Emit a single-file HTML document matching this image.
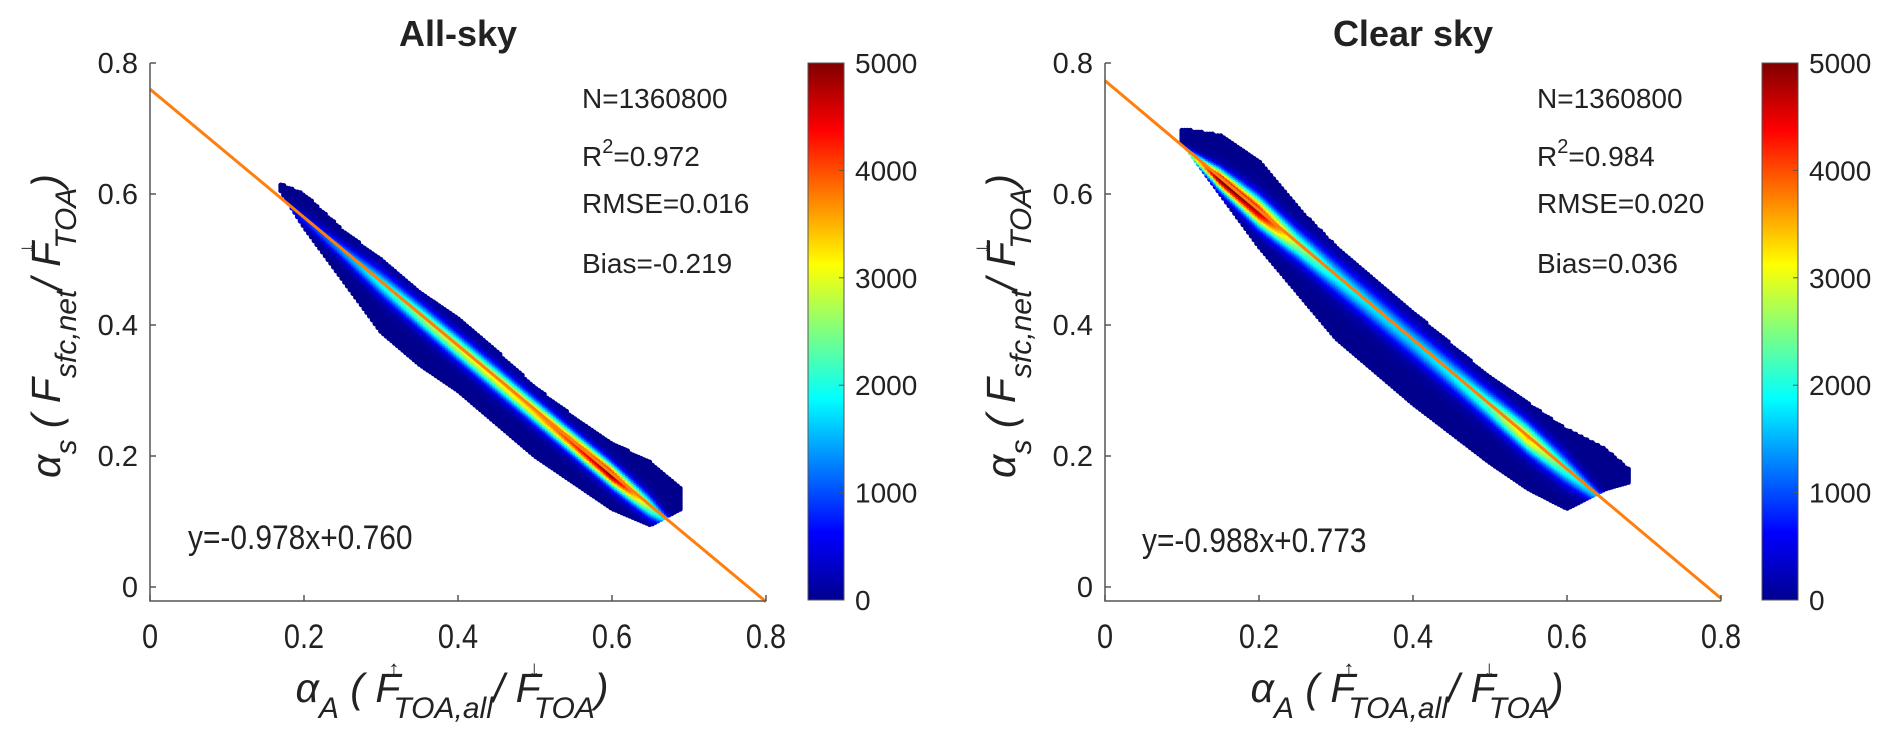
<!DOCTYPE html>
<html><head><meta charset="utf-8"><style>
html,body{margin:0;padding:0;background:#fff}
svg{display:block}
text{font-family:"Liberation Sans",Arial,sans-serif;fill:#222}
</style></head><body>
<svg id="fig" width="1892" height="745" viewBox="0 0 1892 745" xmlns="http://www.w3.org/2000/svg">
<defs>
<linearGradient id="jet" x1="0" y1="1" x2="0" y2="0">
<stop offset="0" stop-color="#00008f"/><stop offset="0.125" stop-color="#0000ff"/>
<stop offset="0.375" stop-color="#00ffff"/><stop offset="0.625" stop-color="#ffff00"/>
<stop offset="0.875" stop-color="#ff0000"/><stop offset="1" stop-color="#800000"/>
</linearGradient>
</defs>
</svg>
<script>
// ---- data ----
const xTicks = [0, 0.2, 0.4, 0.6, 0.8];
const yTicks = [0, 0.2, 0.4, 0.6, 0.8];
const cbTicks = [0, 1000, 2000, 3000, 4000, 5000];
const titles = ["All-sky", "Clear sky"];
const slopes = [-0.978, -0.988];
const intercepts = [0.760, 0.773];
const statsN = ["N=1360800", "N=1360800"];
const statsR2 = ["=0.972", "=0.984"];
const statsRMSE = ["RMSE=0.016", "RMSE=0.020"];
const statsBias = ["Bias=-0.219", "Bias=0.036"];
const eqs = ["y=-0.978x+0.760", "y=-0.988x+0.773"];
// density cloud outlines (x, top y, bottom y, peak count along fit line)
const cloudXA = [0.17, 0.20, 0.25, 0.30, 0.35, 0.40, 0.45, 0.50, 0.55, 0.60, 0.65, 0.69];
const cloudTopA = [0.615, 0.600, 0.545, 0.500, 0.450, 0.410, 0.360, 0.305, 0.260, 0.220, 0.190, 0.150];
const cloudBotA = [0.605, 0.550, 0.470, 0.390, 0.340, 0.300, 0.250, 0.200, 0.160, 0.120, 0.095, 0.120];
const cloudPeakA = [300, 600, 1200, 1800, 2400, 2800, 3000, 3300, 4000, 4800, 2500, 600];
const cloudXB = [0.10, 0.15, 0.20, 0.25, 0.30, 0.35, 0.40, 0.45, 0.50, 0.55, 0.60, 0.65, 0.68];
const cloudTopB = [0.700, 0.690, 0.650, 0.580, 0.520, 0.470, 0.420, 0.370, 0.320, 0.280, 0.240, 0.210, 0.180];
const cloudBotB = [0.680, 0.600, 0.520, 0.450, 0.380, 0.330, 0.280, 0.235, 0.190, 0.150, 0.120, 0.150, 0.160];
const cloudPeakB = [1500, 5000, 4600, 2500, 1800, 1600, 1500, 1700, 2200, 3200, 2000, 1200, 500];

const NS = "http://www.w3.org/2000/svg";
const svg = document.getElementById("fig");
function mk(tag, attrs, parent){const e=document.createElementNS(NS,tag);for(const k in attrs)e.setAttribute(k,attrs[k]);(parent||svg).appendChild(e);return e;}
function jet(v){
  const r=Math.min(4*v-1.5,-4*v+4.5), g=Math.min(4*v-0.5,-4*v+3.5), b=Math.min(4*v+0.5,-4*v+2.5);
  const c=t=>Math.round(255*Math.max(0,Math.min(1,t)));
  return `rgb(${c(r)},${c(g)},${c(b)})`;
}
function interp(xs, ys, x){
  if(x<=xs[0])return ys[0]; if(x>=xs[xs.length-1])return ys[ys.length-1];
  for(let i=0;i<xs.length-1;i++) if(x<=xs[i+1]){const t=(x-xs[i])/(xs[i+1]-xs[i]);return ys[i]+t*(ys[i+1]-ys[i]);}
}
const panels = [
  {x0:150, x1:766, cbx:808, cloudX:cloudXA, top:cloudTopA, bot:cloudBotA, peak:cloudPeakA, statX:582, eqX:188, eqY:549},
  {x0:1105, x1:1721, cbx:1762, cloudX:cloudXB, top:cloudTopB, bot:cloudBotB, peak:cloudPeakB, statX:1537, eqX:1142, eqY:552}
];
const yTop=63, yZero=587, axisBottom=601;
panels.forEach((p,pi)=>{
  const sx=v=>p.x0+(p.x1-p.x0)*v/0.8;
  const sy=v=>yZero-(yZero-yTop)*v/0.8;
  const g=mk("g",{});
  
  
  const t=mk("text",{x:(p.x0+p.x1)/2,y:46,"text-anchor":"middle","font-size":"36","font-weight":"bold"},g);
  t.textContent=titles[pi];
  
  
  const cg=mk("g",{},g);
  
  
  const step=0.0036;
  const xs0=p.cloudX[0], xs1=p.cloudX[p.cloudX.length-1];
  for(let x=xs0;x<=xs1+1e-9;x+=step){
    const tp=interp(p.cloudX,p.top,x), bt=interp(p.cloudX,p.bot,x), pk=interp(p.cloudX,p.peak,x);
    const yl=slopes[pi]*x+intercepts[pi];
    const h=Math.max(tp-bt,0.01);
    for(let y=bt;y<=tp+1e-9;y+=step*0.8){
      const d=Math.max(60, pk*Math.exp(-Math.pow((y-yl)/(0.16*h),2)) + 150*Math.exp(-Math.pow((y-yl)/(0.5*h),2)));
      mk("circle",{cx:sx(x).toFixed(1),cy:sy(y).toFixed(1),r:2.6,fill:jet(Math.min(1,d/5000))},cg);
    }
  }
  const fl=mk("line",{x1:sx(0),y1:sy(intercepts[pi]),x2:sx(0.8),y2:sy(slopes[pi]*0.8+intercepts[pi]),stroke:"#ff7f0e","stroke-width":3},g);
  
  
  const ax=mk("path",{d:`M${p.x0},${yTop} L${p.x0},${axisBottom} L${p.x1},${axisBottom}`,fill:"none",stroke:"#555","stroke-width":1.5},g);
  
  
  xTicks.forEach(v=>{
    mk("line",{x1:sx(v),x2:sx(v),y1:axisBottom,y2:axisBottom-6,stroke:"#555","stroke-width":1.5},g);
    const tl=mk("text",{x:sx(v),y:648,"text-anchor":"middle","font-size":"34",transform:`translate(${sx(v)},0) scale(0.85,1) translate(${-sx(v)},0)`},g);
    tl.textContent=String(v);
    
    
  });
  yTicks.forEach(v=>{
    mk("line",{x1:p.x0,x2:p.x0+6,y1:sy(v),y2:sy(v),stroke:"#555","stroke-width":1.5},g);
    const tl=mk("text",{x:p.x0-12,y:sy(v)+10,"text-anchor":"end","font-size":"29"},g);
    tl.textContent=String(v);
    
    
  });
  const xl=mk("text",{x:(p.x0+p.x1)/2-6,y:702,"text-anchor":"middle","font-size":"41","font-style":"italic"},g);
  xl.innerHTML=`α<tspan font-size="30" dy="16">A</tspan><tspan dy="-16"> ( F</tspan><tspan font-size="22" dx="-12" dy="-26">↑</tspan><tspan font-size="30" dx="-6" dy="42">TOA,all</tspan><tspan dy="-16">/ F</tspan><tspan font-size="22" dx="-12" dy="-26">↓</tspan><tspan font-size="30" dx="-6" dy="42">TOA</tspan><tspan dy="-16">)</tspan>`;
  
  
  const ly=p.x0-90;
  const yl=mk("text",{x:0,y:0,"text-anchor":"middle","font-size":"41","font-style":"italic",transform:`translate(${ly},326) rotate(-90)`},g);
  yl.innerHTML=`α<tspan font-size="30" dy="16">s</tspan><tspan dy="-16"> ( F</tspan><tspan font-size="30" dy="16">sfc,net</tspan><tspan dy="-16">/ F</tspan><tspan font-size="22" dx="-12" dy="-26">↓</tspan><tspan font-size="30" dx="-6" dy="42">TOA</tspan><tspan dy="-16">)</tspan>`;
  
  
  const s1=mk("text",{x:p.statX,y:108,"font-size":"28"},g); s1.textContent=statsN[pi];
   
  const s2=mk("text",{x:p.statX,y:166,"font-size":"28"},g);
  s2.innerHTML=`R<tspan font-size="20" dy="-13">2</tspan><tspan dy="13">${statsR2[pi]}</tspan>`;
   
  const s3=mk("text",{x:p.statX,y:213,"font-size":"28"},g); s3.textContent=statsRMSE[pi];
   
  const s4=mk("text",{x:p.statX,y:273,"font-size":"28"},g); s4.textContent=statsBias[pi];
   
  const eq=mk("text",{x:p.eqX,y:p.eqY,"font-size":"34",transform:`translate(${p.eqX},0) scale(0.88,1) translate(${-p.eqX},0)`},g);
  eq.textContent=eqs[pi];
   
  const cbTop=63, cbBot=600, cbMax=5000;
  const cy=v=>cbBot-(cbBot-cbTop)*v/cbMax;
  const cb=mk("rect",{x:p.cbx,y:cbTop,width:36,height:cbBot-cbTop,fill:"url(#jet)",stroke:"#555","stroke-width":1},g);
   
  cbTicks.forEach(v=>{
    mk("line",{x1:p.cbx+36,x2:p.cbx+31,y1:cy(v),y2:cy(v),stroke:"#555","stroke-width":1},g);
    const tl=mk("text",{x:p.cbx+47,y:cy(v)+10,"font-size":"28"},g);
    tl.textContent=String(v);
    
    
  });
});
</script>
</body></html>
